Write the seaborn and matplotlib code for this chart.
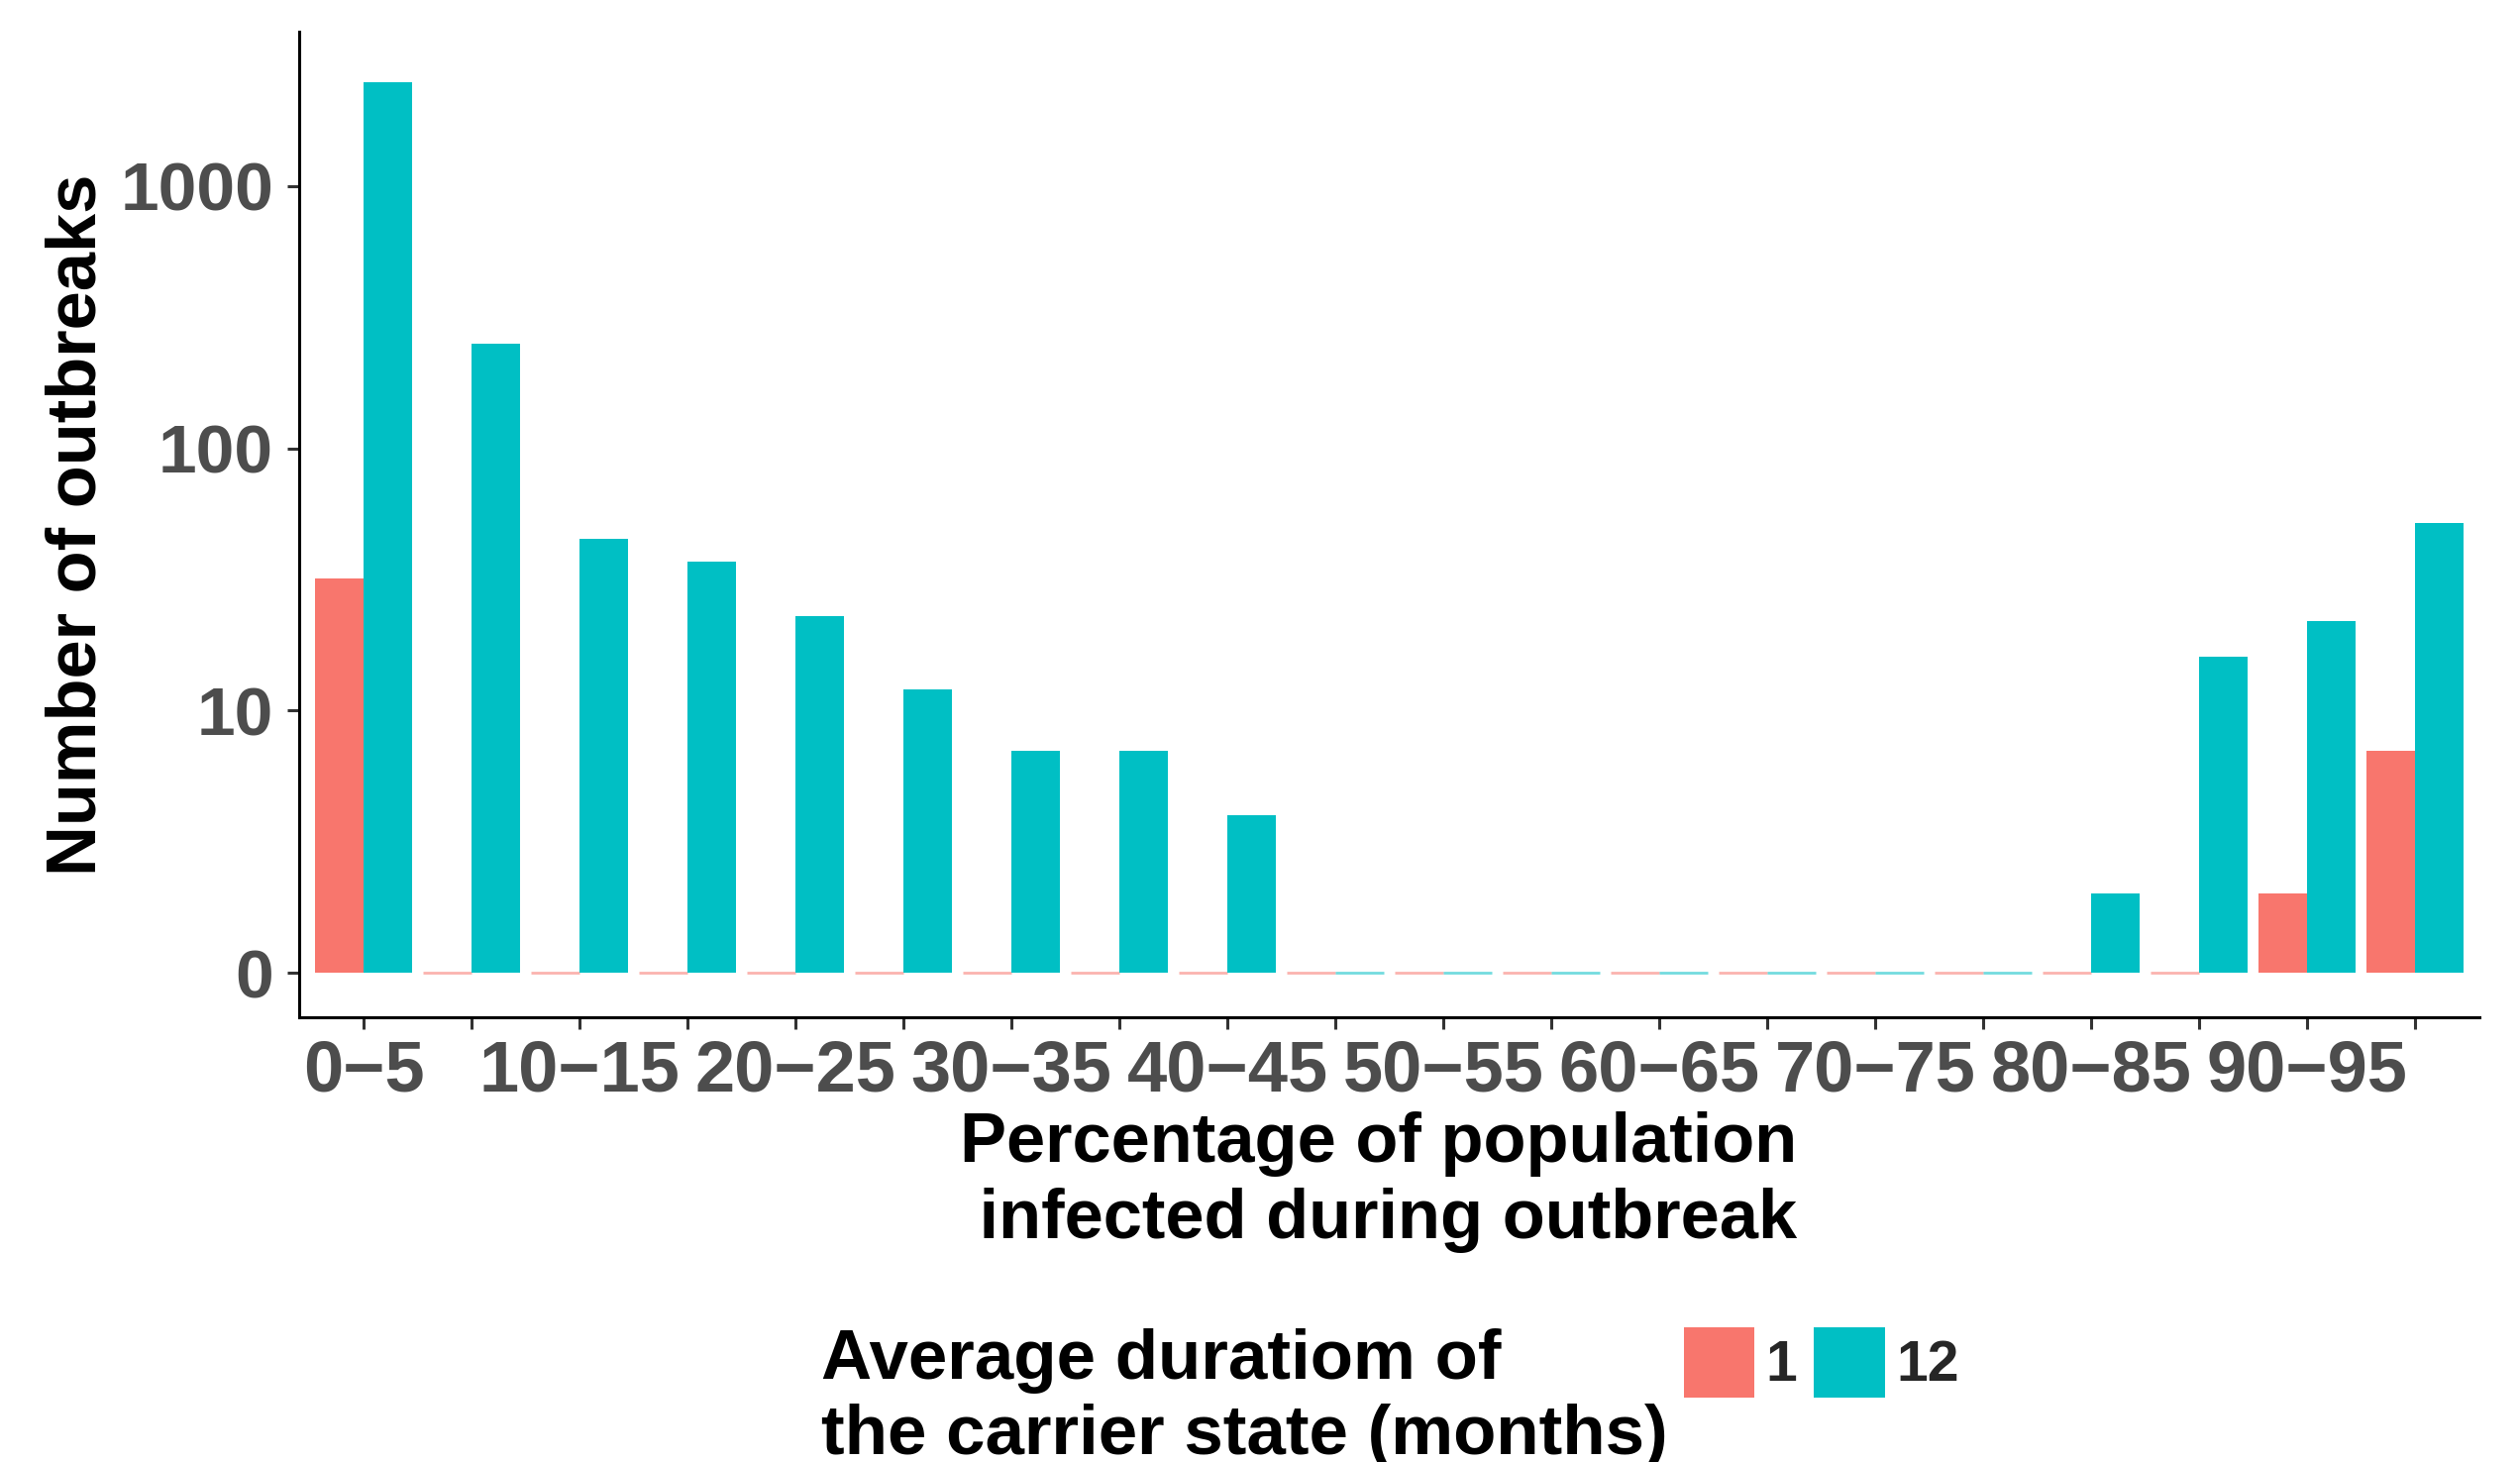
import numpy as np
import pandas as pd
import matplotlib
matplotlib.use("Agg")
import matplotlib.pyplot as plt
import seaborn as sns

# Outbreak size classes (% of population infected)
ranges = ["0\u22125", "5\u221210", "10\u221215", "15\u221220", "20\u221225", "25\u221230",
          "30\u221235", "35\u221240", "40\u221245", "45\u221250", "50\u221255", "55\u221260",
          "60\u221265", "65\u221270", "70\u221275", "75\u221280", "80\u221285", "85\u221290",
          "90\u221295", "95\u2212100"]

# Number of outbreaks per class, by average carrier-state duration
outbreaks_1_month = [32, 0, 0, 0, 0, 0, 0, 0, 0, 0, 0, 0, 0, 0, 0, 0, 0, 0, 2, 7]
outbreaks_12_months = [2500, 250, 45, 37, 23, 12, 7, 7, 4, 0, 0, 0, 0, 0, 0, 0, 2, 16, 22, 52]

durations = ["1", "12"]
colors = ["#F8766D", "#00BFC4"]

y_breaks = [0, 10, 100, 1000]

df = pd.DataFrame({
    "range": ranges * 2,
    "duration": [durations[0]] * len(ranges) + [durations[1]] * len(ranges),
    "count": outbreaks_1_month + outbreaks_12_months,
})
# log10 axis with empty classes sitting on the baseline
df["height"] = np.log10(np.maximum(df["count"], 1))

sns.set_theme(style="ticks")
plt.rcParams["font.family"] = ["Liberation Sans", "DejaVu Sans"]
plt.rcParams["font.weight"] = "bold"

fig = plt.figure(figsize=(12.72, 7.38), dpi=200)
ax = fig.add_axes([302 / 2544, 1 - 1027 / 1476, (2503 - 302) / 2544, (1027 - 32) / 1476])

sns.barplot(data=df, x="range", y="height", hue="duration", hue_order=durations,
            order=ranges, palette=colors, width=0.9, gap=0, saturation=1,
            linewidth=0, ax=ax)

# give empty classes a hairline so they stay visible
for bar in ax.patches:
    if bar.get_height() == 0 and bar.get_width() > 0:
        fc = bar.get_facecolor()
        bar.set_edgecolor((fc[0], fc[1], fc[2], 0.55))
        bar.set_linewidth(1.0)

handles, labels = ax.get_legend_handles_labels()
if ax.get_legend() is not None:
    ax.get_legend().remove()

ax.set_xlim(-0.6, len(ranges) - 0.4)
ax.set_ylim(-0.17, 3.589)

ax.set_yticks(np.log10(np.maximum(y_breaks, 1)))
ax.set_yticklabels([str(b) for b in y_breaks])
ax.set_xticks(range(len(ranges)))
ax.set_xticklabels([r if i % 2 == 0 and i < len(ranges) - 1 else "" for i, r in enumerate(ranges)])

for s in ["top", "right"]:
    ax.spines[s].set_visible(False)
for s in ["left", "bottom"]:
    ax.spines[s].set_linewidth(1.1)
    ax.spines[s].set_color("black")

ax.tick_params(axis="both", length=4.3, width=1.1, color="#333333")
ax.tick_params(axis="y", labelsize=25, labelcolor="#4D4D4D", pad=5)
ax.tick_params(axis="x", labelsize=26, labelcolor="#4D4D4D", pad=3.6)
for t in ax.get_xticklabels() + ax.get_yticklabels():
    t.set_fontweight("bold")

ax.set_ylabel("Number of outbreaks", fontsize=25.4, fontweight="bold", color="black", labelpad=3.5)
ax.set_xlabel("Percentage of population\n infected during outbreak", fontsize=25.4,
              fontweight="bold", color="black", labelpad=2, linespacing=1.2)
ax.xaxis.label.set_x(0.4952)

# legend: title on the left, keys in a row
fig.text(829 / 2544, 1 - 1341 / 1476, "Average duratiom of\nthe carrier state (months)",
         fontsize=25.5, fontweight="bold", color="black", ha="left", va="top", linespacing=1.2)
fig.legend(handles, labels, loc="upper left", bbox_to_anchor=(1700 / 2544, 1 - 1340 / 1476),
           ncol=2, frameon=False, handlelength=1.25, handleheight=1.53,
           handletextpad=0.2, columnspacing=0.3, borderaxespad=0, borderpad=0,
           prop={"weight": "bold", "size": 20.5})

fig.savefig("out.png", dpi=200)
